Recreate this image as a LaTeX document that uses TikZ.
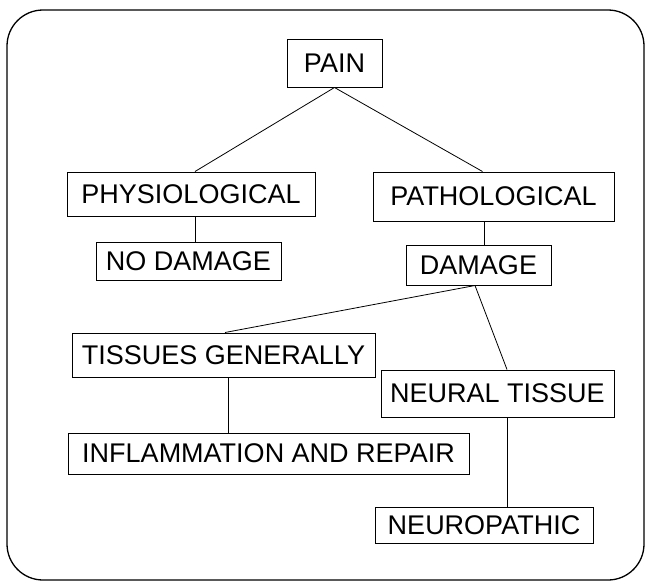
\documentclass[tikz,border=0pt]{standalone}
\usepackage{fontspec}
\setmainfont{Liberation Sans}
\usetikzlibrary{calc}
\begin{document}
\begin{tikzpicture}[x=1pt,y=-1pt,
  box/.style={draw=black, line width=1pt, inner sep=0pt, font=\fontsize{27}{31}\selectfont},
  link/.style={draw=black, line width=0.8pt},
  frame/.style={draw=black, line width=1.3pt, rounded corners=36pt}]
\useasboundingbox (0,0) rectangle (646,584);
\draw[frame] (7,10) rectangle (644,580);
\node[box, minimum width=95pt, minimum height=48pt] (pain) at (334.5,63) {PAIN};
\node[box, minimum width=248pt, minimum height=44pt] (phys) at (191,194) {PHYSIOLOGICAL};
\node[box, minimum width=241pt, minimum height=49pt] (path) at (493.5,196.5) {PATHOLOGICAL};
\node[box, minimum width=185pt, minimum height=38pt] (nodmg) at (188.5,261) {NO DAMAGE};
\node[box, minimum width=145pt, minimum height=40pt] (dmg) at (478.5,265) {DAMAGE};
\node[box, minimum width=303pt, minimum height=44pt] (tissues) at (223.5,355) {TISSUES GENERALLY};
\node[box, minimum width=233pt, minimum height=47pt] (neural) at (497.5,393.5) {NEURAL TISSUE};
\node[box, minimum width=401pt, minimum height=41pt] (inflam) at (268.5,453.5) {INFLAMMATION AND REPAIR};
\node[box, minimum width=218pt, minimum height=36pt] (neuro) at (484,525) {NEUROPATHIC};
\draw[link] (pain.south) -- ($(phys.north)+(4,0)$);
\draw[link] (pain.south) -- ($(path.north)+(-11,0)$);
\draw[link] ($(phys.south)+(4,0)$) -- ($(nodmg.north)+(6.5,0)$);
\draw[link] ($(path.south)+(-9.5,0)$) -- ($(dmg.north)+(5.5,0)$);
\draw[link] ($(dmg.south)+(-3.5,0)$) -- ($(tissues.north)+(1.5,0)$);
\draw[link] ($(dmg.south)+(-3.5,0)$) -- ($(neural.north)+(9.5,0)$);
\draw[link] ($(tissues.south)+(4.5,0)$) -- ($(inflam.north)+(-40.5,0)$);
\draw[link] ($(neural.south)+(9.5,0)$) -- ($(neuro.north)+(23,0)$);
\end{tikzpicture}
\end{document}
